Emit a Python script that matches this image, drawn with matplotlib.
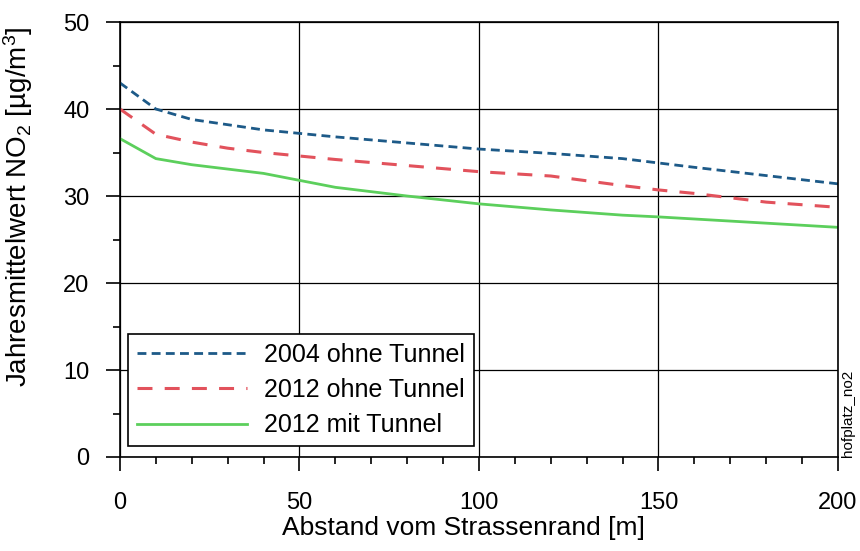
import numpy as np
import matplotlib
matplotlib.use("Agg")
import matplotlib.pyplot as plt
from matplotlib.ticker import MultipleLocator

plt.rcParams['font.family'] = ['Liberation Sans', 'DejaVu Sans']
plt.rcParams['mathtext.fontset'] = 'custom'
plt.rcParams['mathtext.rm'] = 'Liberation Sans'
plt.rcParams['mathtext.it'] = 'Liberation Sans:italic'
plt.rcParams['mathtext.default'] = 'rm'

# Abstand vom Strassenrand [m] und NO2-Jahresmittelwerte
x_2004 = [0, 10, 20, 30, 40, 50, 60, 80, 100, 120, 140, 150, 160, 200]
no2_2004 = [43.0, 40.0, 38.8, 38.2, 37.6, 37.2, 36.8, 36.1, 35.4, 34.9, 34.3, 33.8, 33.3, 31.4]

x_2012 = [0, 10, 20, 30, 40, 50, 60, 80, 100, 120, 140, 150, 160, 180, 200]
no2_2012 = [40.0, 37.1, 36.2, 35.5, 35.0, 34.6, 34.2, 33.5, 32.8, 32.3, 31.2, 30.7, 30.3, 29.3, 28.7]

x_tunnel = [0, 10, 20, 40, 50, 60, 80, 100, 120, 140, 150, 200]
no2_tunnel = [36.6, 34.3, 33.6, 32.6, 31.8, 31.0, 30.0, 29.1, 28.4, 27.8, 27.6, 26.4]

labels = ["2004 ohne Tunnel", "2012 ohne Tunnel", "2012 mit Tunnel"]

fig = plt.figure(figsize=(8.6, 5.51), dpi=100)
ax = fig.add_axes([0.1395, 0.1706, 0.8349, 0.7894])

ax.plot(x_2004, no2_2004, color='#1d5a88', lw=2.0, dashes=(3.2, 1.9), label=labels[0])
ax.plot(x_2012, no2_2012, color='#e2525c', lw=2.2, dashes=(4.9, 4.0), label=labels[1])
ax.plot(x_tunnel, no2_tunnel, color='#5ccf5c', lw=2.0, label=labels[2])

ax.set_xlim(0, 200)
ax.set_ylim(0, 50)
ax.xaxis.set_major_locator(MultipleLocator(50))
ax.xaxis.set_minor_locator(MultipleLocator(10))
ax.yaxis.set_major_locator(MultipleLocator(10))
ax.yaxis.set_minor_locator(MultipleLocator(5))
ax.grid(True, which='major', color='black', lw=0.9)

ax.tick_params(which='major', direction='out', length=10, width=1.2, labelsize=17, color='black')
ax.tick_params(axis='x', which='major', pad=15)
ax.tick_params(axis='y', which='major', pad=12)
ax.tick_params(which='minor', direction='out', length=5, width=1.2)
for s in ax.spines.values():
    s.set_color('black')
    s.set_linewidth(1.2)

ax.set_xlabel('Abstand vom Strassenrand [m]', fontsize=19)
ax.set_ylabel('Jahresmittelwert NO$_2$ [\u00b5g/m$^3$]', fontsize=20)
ax.xaxis.set_label_coords(0.479, -0.135)
ax.yaxis.set_label_coords(-0.118, 0.575)

leg = ax.legend(loc='lower left', bbox_to_anchor=(0.011, 0.025), fontsize=18,
                handlelength=4.4, frameon=True, fancybox=False, edgecolor='black',
                framealpha=1, borderpad=0.35, labelspacing=0.45, handletextpad=0.7,
                borderaxespad=0)
leg.get_frame().set_linewidth(1.2)

fig.text(0.986, 0.249, 'hofplatz_no2', rotation=90, fontsize=11, ha='center', va='center')

fig.savefig('out.png', dpi=100)
